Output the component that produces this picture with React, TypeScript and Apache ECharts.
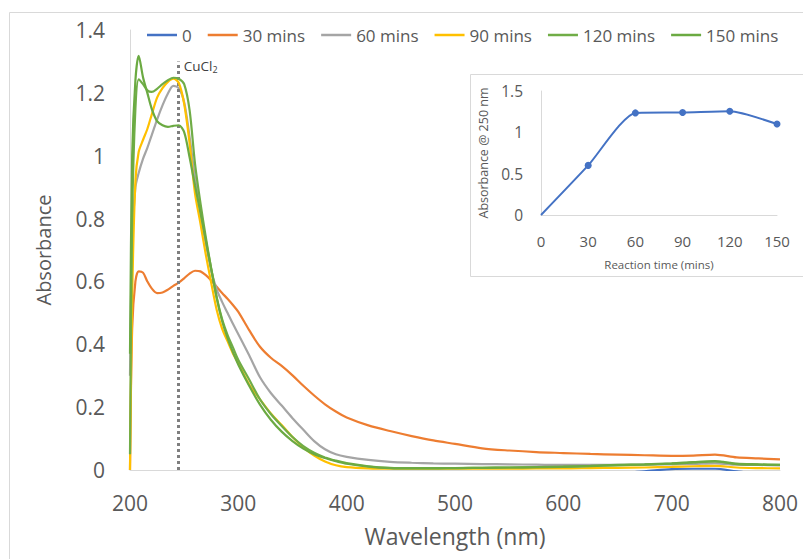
import React, { useEffect, useRef } from "react";
import * as echarts from "echarts";

// Main chart: UV-Vis spectra
const WAVELENGTH = [200,202,205,208,212,216,220,225,230,235,240,245,250,255,260,265,270,275,280,285,290,295,300,310,320,330,340,350,360,370,380,390,400,420,440,460,480,500,525,550,575,600,625,650,675,700,720,740,760,780,800];

const ABS_0 = [-0.01,-0.01,-0.01,-0.01,-0.01,-0.01,-0.01,-0.01,-0.01,-0.01,-0.01,-0.01,-0.01,-0.01,-0.01,-0.01,-0.01,-0.01,-0.01,-0.01,-0.01,-0.01,-0.01,-0.01,-0.01,-0.01,-0.01,-0.01,-0.01,-0.01,-0.01,-0.01,-0.01,-0.01,-0.01,-0.01,-0.01,-0.01,-0.01,-0.01,-0.01,-0.01,-0.01,-0.01,-0.004,0.003,0.004,0.004,-0.004,-0.01,-0.01];
const ABS_30 = [0,0.45,0.60,0.632,0.628,0.600,0.578,0.563,0.565,0.574,0.586,0.596,0.610,0.625,0.634,0.632,0.620,0.603,0.583,0.563,0.545,0.525,0.503,0.445,0.392,0.357,0.331,0.301,0.268,0.237,0.209,0.186,0.167,0.142,0.124,0.108,0.094,0.083,0.069,0.062,0.057,0.054,0.051,0.049,0.047,0.045,0.046,0.049,0.040,0.037,0.034];
const ABS_60 = [0.30,0.72,0.90,0.945,0.99,1.025,1.065,1.115,1.160,1.198,1.222,1.215,1.170,1.060,0.930,0.820,0.720,0.635,0.575,0.535,0.500,0.465,0.432,0.365,0.295,0.245,0.205,0.165,0.128,0.092,0.066,0.050,0.042,0.032,0.026,0.023,0.021,0.020,0.019,0.018,0.017,0.016,0.016,0.016,0.017,0.018,0.019,0.021,0.017,0.016,0.015];
const ABS_90 = [0,0.55,0.92,1.012,1.050,1.085,1.130,1.185,1.215,1.235,1.245,1.232,1.165,1.040,0.880,0.785,0.685,0.595,0.510,0.450,0.410,0.371,0.340,0.272,0.225,0.180,0.143,0.105,0.072,0.046,0.027,0.015,0.009,0.005,0.004,0.004,0.004,0.004,0.004,0.004,0.005,0.005,0.006,0.007,0.008,0.010,0.012,0.013,0.008,0.006,0.005];
const ABS_120 = [0.05,0.80,1.15,1.243,1.228,1.208,1.203,1.213,1.228,1.240,1.248,1.245,1.228,1.145,0.975,0.850,0.740,0.640,0.550,0.480,0.430,0.390,0.350,0.288,0.225,0.178,0.140,0.105,0.076,0.055,0.040,0.030,0.022,0.012,0.007,0.006,0.006,0.006,0.007,0.008,0.009,0.010,0.012,0.015,0.017,0.020,0.024,0.027,0.020,0.018,0.016];
const ABS_150 = [0.37,1.00,1.24,1.318,1.250,1.200,1.150,1.110,1.097,1.092,1.095,1.097,1.075,0.995,0.905,0.820,0.730,0.640,0.548,0.475,0.420,0.375,0.335,0.268,0.208,0.160,0.122,0.092,0.068,0.050,0.038,0.028,0.020,0.011,0.006,0.005,0.005,0.006,0.007,0.008,0.009,0.011,0.013,0.016,0.018,0.021,0.025,0.028,0.019,0.017,0.016];

const SERIES_NAMES = ["0", "30 mins", "60 mins", "90 mins", "120 mins", "150 mins"];
const SERIES_VALUES = [ABS_0, ABS_30, ABS_60, ABS_90, ABS_120, ABS_150];
const SERIES_COLORS = ["#4472C4", "#ED7D31", "#A5A5A5", "#FFC000", "#70AD47", "#6BAA42"];

const CUCL2_NM = 245;
const CUCL2_TOP = 1.3;
const CUCL2_LABEL_Y = 1.285;

// Inset: absorbance at 250 nm vs reaction time
const REACTION_TIME = [0, 30, 60, 90, 120, 150];
const ABS_250 = [0, 0.6, 1.235, 1.24, 1.255, 1.1];

const FONT = "Open Sans";
const GRAY_TEXT = "#595959";
const AXIS_LINE = "#D9D9D9";

export default function App() {
  const ref = useRef<HTMLDivElement>(null);

  useEffect(() => {
    if (!ref.current) return;
    const chart = echarts.init(ref.current, null, { renderer: "svg" });

    const mainSeries = SERIES_NAMES.map((name, i) => {
      const s: any = {
        name,
        type: "line",
        xAxisIndex: 0,
        yAxisIndex: 0,
        data: WAVELENGTH.map((w, j) => [w, SERIES_VALUES[i][j]]),
        smooth: 0.3,
        symbol: "none",
        clip: true,
        lineStyle: { color: SERIES_COLORS[i], width: 2.2 },
        itemStyle: { color: SERIES_COLORS[i] },
        z: 2 + i,
      };
      if (i === SERIES_NAMES.length - 1) {
        s.markLine = {
          silent: true,
          symbol: ["none", "none"],
          lineStyle: { color: "#7F7F7F", type: "dotted", width: 3 },
          label: { show: false },
          data: [[{ coord: [CUCL2_NM, 0] }, { coord: [CUCL2_NM, CUCL2_TOP] }]],
        };
        s.markPoint = {
          silent: true,
          symbol: "circle",
          symbolSize: 0,
          label: {
            show: true,
            position: "right",
            distance: 5,
            formatter: "{a|CuCl}{b|2}",
            rich: {
              a: { fontFamily: FONT, fontSize: 13.5, color: "#404040" },
              b: { fontFamily: FONT, fontSize: 9, color: "#404040", padding: [7, 0, 0, 0] },
            },
          },
          data: [{ coord: [CUCL2_NM, CUCL2_LABEL_Y] }],
        };
      }
      return s;
    });

    const option: any = {
      animation: false,
      backgroundColor: "#ffffff",
      textStyle: { fontFamily: FONT },
      graphic: [
        {
          type: "rect",
          z: -20,
          shape: { x: 9.5, y: 12.5, width: 820, height: 580 },
          style: { fill: "none", stroke: "#D9D9D9", lineWidth: 1 },
        },
        {
          type: "rect",
          z: -10,
          shape: { x: 470.5, y: 74.5, width: 360, height: 202 },
          style: { fill: "#ffffff", stroke: "#D9D9D9", lineWidth: 1 },
        },
      ],
      legend: {
        data: SERIES_NAMES,
        left: 142,
        top: 20,
        icon: "rect",
        itemWidth: 30,
        itemHeight: 2.5,
        itemGap: 16,
        textStyle: { fontFamily: FONT, fontSize: 17, color: GRAY_TEXT, lineHeight: 20 },
      },
      grid: [
        { left: 130, right: 23, top: 30, bottom: 89 },
        { left: 541, right: 26, top: 91, bottom: 344 },
      ],
      xAxis: [
        {
          type: "value",
          gridIndex: 0,
          min: 200,
          max: 800,
          interval: 100,
          axisLine: { show: true, lineStyle: { color: AXIS_LINE, width: 1 } },
          axisTick: { show: false },
          splitLine: { show: false },
          axisLabel: { color: GRAY_TEXT, fontSize: 21, margin: 22, fontFamily: FONT },
          name: "Wavelength (nm)",
          nameLocation: "middle",
          nameGap: 54,
          nameTextStyle: { color: GRAY_TEXT, fontSize: 23, fontFamily: FONT },
        },
        {
          type: "value",
          gridIndex: 1,
          min: 0,
          max: 150,
          interval: 30,
          axisLine: { show: true, lineStyle: { color: AXIS_LINE, width: 1 } },
          axisTick: { show: false },
          splitLine: { show: false },
          axisLabel: { color: GRAY_TEXT, fontSize: 15, margin: 18, fontFamily: FONT },
          name: "Reaction time (mins)",
          nameLocation: "middle",
          nameGap: 43,
          nameTextStyle: { color: GRAY_TEXT, fontSize: 11.5, fontFamily: FONT },
        },
      ],
      yAxis: [
        {
          type: "value",
          gridIndex: 0,
          min: 0,
          max: 1.4,
          interval: 0.2,
          axisLine: { show: true, lineStyle: { color: AXIS_LINE, width: 1 } },
          axisTick: { show: false },
          splitLine: { show: false },
          axisLabel: {
            color: GRAY_TEXT,
            fontSize: 21,
            margin: 25,
            fontFamily: FONT,
            formatter: (v: number) => String(Math.round(v * 10) / 10),
          },
          name: "Absorbance",
          nameLocation: "middle",
          nameGap: 77,
          nameTextStyle: { color: GRAY_TEXT, fontSize: 20, fontFamily: FONT },
        },
        {
          type: "value",
          gridIndex: 1,
          min: 0,
          max: 1.5,
          interval: 0.5,
          axisLine: { show: true, lineStyle: { color: AXIS_LINE, width: 1 } },
          axisTick: { show: false },
          splitLine: { show: false },
          axisLabel: {
            color: GRAY_TEXT,
            fontSize: 15.5,
            margin: 18,
            fontFamily: FONT,
            formatter: (v: number) => String(Math.round(v * 10) / 10),
          },
          name: "Absorbance @ 250 nm",
          nameLocation: "middle",
          nameGap: 51,
          nameTextStyle: { color: GRAY_TEXT, fontSize: 12.5, fontFamily: FONT },
        },
      ],
      series: [
        ...mainSeries,
        {
          name: "Absorbance @ 250 nm",
          type: "line",
          xAxisIndex: 1,
          yAxisIndex: 1,
          smooth: 0.2,
          symbol: "circle",
          symbolSize: 7,
          lineStyle: { color: "#4472C4", width: 2 },
          itemStyle: { color: "#4472C4" },
          data: REACTION_TIME.map((t, i) =>
            i === 0 ? { value: [t, ABS_250[i]], symbol: "none" } : [t, ABS_250[i]]
          ),
          z: 10,
        },
      ],
    };

    chart.setOption(option);
    return () => chart.dispose();
  }, []);

  return (
    <div
      ref={ref}
      style={{ position: "absolute", left: 0, top: 0, width: 803, height: 559, background: "#fff" }}
    />
  );
}
